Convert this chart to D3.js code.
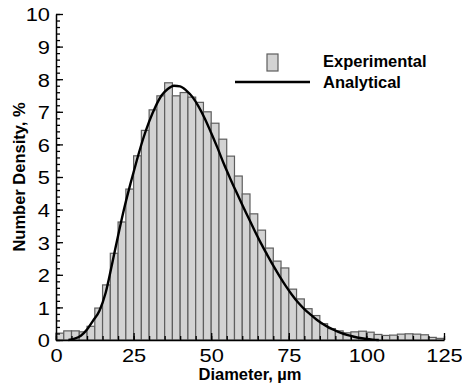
<!DOCTYPE html>
<html>
<head>
<meta charset="utf-8">
<script src="https://cdn.jsdelivr.net/npm/d3@7"></script>
<style>
  body { margin: 0; background: #fff; }
  #container { width: 462px; height: 386px; }
  text { font-family: "Liberation Sans", Arial, Helvetica, sans-serif; fill: #000; }
</style>
</head>
<body>
<div id="container"></div>
<script>
// histogram bins (left edge, um) and measured number density (%)
const binLeft = [0, 2.5, 5, 7.5, 10, 12.5, 15, 17.5, 20, 22.5,
    25, 27.5, 30, 32.5, 35, 37.5, 40, 42.5, 45, 47.5,
    50, 52.5, 55, 57.5, 60, 62.5, 65, 67.5, 70, 72.5,
    75, 77.5, 80, 82.5, 85, 87.5, 90, 92.5, 95, 97.5,
    100, 102.5, 105, 107.5, 110, 112.5, 115, 117.5, 120, 122.5];
const binWidth = 2.5;
const experimental = [0.21, 0.28, 0.28, 0.25, 0.42, 0.98, 1.69, 2.66, 3.62, 4.63,
    5.65, 6.43, 7.06, 7.49, 7.89, 7.49, 7.59, 7.45, 7.29, 7.00,
    6.65, 6.16, 5.64, 5.03, 4.48, 3.87, 3.37, 2.82, 2.42, 2.21,
    1.56, 1.26, 0.96, 0.75, 0.50, 0.35, 0.28, 0.22, 0.25, 0.27,
    0.24, 0.17, 0.14, 0.15, 0.18, 0.19, 0.18, 0.16, 0.08, 0.05];

// analytical curve
const curveD = [4, 6, 8, 10, 12, 14, 16, 18, 20, 22, 24, 26, 28, 30, 32, 34, 36, 38, 40, 42,
    44, 46, 48, 50, 52, 54, 56, 58, 60, 62, 64, 66, 68, 70, 72, 74, 76, 78, 80, 82,
    84, 86, 88, 90, 92, 94, 96, 98, 100, 102, 104];
const analytical = [0, 0.04, 0.13, 0.32, 0.6, 0.9, 1.45, 2.3, 3.2, 4.05, 4.8, 5.5, 6.15, 6.7, 7.15, 7.5, 7.7, 7.8, 7.78, 7.65,
    7.45, 7.15, 6.78, 6.35, 5.9, 5.42, 4.98, 4.56, 4.15, 3.75, 3.35, 2.97, 2.62, 2.28, 1.96, 1.66, 1.39, 1.15, 0.95, 0.78,
    0.62, 0.49, 0.38, 0.29, 0.21, 0.15, 0.1, 0.06, 0.03, 0.01, 0];

const xTicks = [0, 25, 50, 75, 100, 125];
const yTicks = [0, 1, 2, 3, 4, 5, 6, 7, 8, 9, 10];
const legendLabels = ["Experimental", "Analytical"];

const svg = d3.select("#container")
    .append("svg")
    .attr("width", 462)
    .attr("height", 386);

const x = d3.scaleLinear().domain([0, 125]).range([56, 444]);
const y = d3.scaleLinear().domain([0, 10]).range([340, 14]);

const barFill = "#d3d3d3", barStroke = "#5e5e5e";

// bars
svg.append("g").selectAll("rect")
    .data(experimental)
    .enter()
    .append("rect")
    .attr("x", function (d, i) { return x(binLeft[i]); })
    .attr("y", function (d) { return y(d); })
    .attr("width", function (d, i) { return x(binLeft[i] + binWidth) - x(binLeft[i]); })
    .attr("height", function (d) { return y(0) - y(d); })
    .attr("fill", barFill)
    .attr("stroke", barStroke)
    .attr("stroke-width", 1.2);

// analytical line
const line = d3.line()
    .x(function (d, i) { return x(curveD[i]); })
    .y(function (d) { return y(d); })
    .curve(d3.curveMonotoneX);

svg.append("path")
    .datum(analytical)
    .attr("d", line)
    .attr("fill", "none")
    .attr("stroke", "#000")
    .attr("stroke-width", 2.4);

// minor ticks (inward)
svg.append("g")
    .attr("transform", "translate(0," + y(0) + ")")
    .call(d3.axisBottom(x).tickValues(d3.range(0, 126, 5)).tickSize(-4).tickFormat(""))
    .call(function (g) { g.select(".domain").remove(); });
svg.append("g")
    .attr("transform", "translate(" + x(0) + ",0)")
    .call(d3.axisLeft(y).tickValues(d3.range(0, 10.01, 0.2)).tickSize(-4).tickFormat(""))
    .call(function (g) { g.select(".domain").remove(); });

// major axes
const xAxis = svg.append("g")
    .attr("transform", "translate(0," + y(0) + ")")
    .call(d3.axisBottom(x).tickValues(xTicks).tickSizeInner(-7).tickSizeOuter(0).tickFormat(d3.format("d")));
const yAxis = svg.append("g")
    .attr("transform", "translate(" + x(0) + ",0)")
    .call(d3.axisLeft(y).tickValues(yTicks).tickSizeInner(-7).tickSizeOuter(0).tickFormat(d3.format("d")));

svg.selectAll(".tick line").attr("stroke", "#000").attr("stroke-width", 1.3);
svg.selectAll(".domain").attr("stroke", "#000").attr("stroke-width", 1.5);

xAxis.selectAll("text")
    .attr("y", 0).attr("dy", null)
    .attr("transform", "translate(0,22) scale(1.15,1)")
    .style("font-size", "19px");
yAxis.selectAll("text")
    .attr("x", 0).attr("dy", "0.36em")
    .attr("transform", "translate(-6,0) scale(1.15,1)")
    .style("font-size", "19px");

// axis titles
svg.append("text")
    .attr("x", 250)
    .attr("y", 380)
    .attr("text-anchor", "middle")
    .style("font-size", "16.5px")
    .style("font-weight", "bold")
    .text("Diameter, \u00b5m");

svg.append("text")
    .attr("transform", "translate(25,177) rotate(-90)")
    .attr("text-anchor", "middle")
    .style("font-size", "16.5px")
    .style("font-weight", "bold")
    .text("Number Density, %");

// legend
const legend = svg.append("g");
legend.append("rect")
    .attr("x", 267).attr("y", 54)
    .attr("width", 11).attr("height", 17)
    .attr("fill", barFill)
    .attr("stroke", barStroke)
    .attr("stroke-width", 1.2);
legend.append("line")
    .attr("x1", 235).attr("x2", 310)
    .attr("y1", 82).attr("y2", 82)
    .attr("stroke", "#000")
    .attr("stroke-width", 2.4);
legend.selectAll("text.lbl")
    .data(legendLabels)
    .enter()
    .append("text")
    .attr("class", "lbl")
    .attr("x", 323)
    .attr("y", function (d, i) { return 67 + i * 21; })
    .style("font-size", "16.5px")
    .style("font-weight", "bold")
    .text(function (d) { return d; });
</script>
</body>
</html>
